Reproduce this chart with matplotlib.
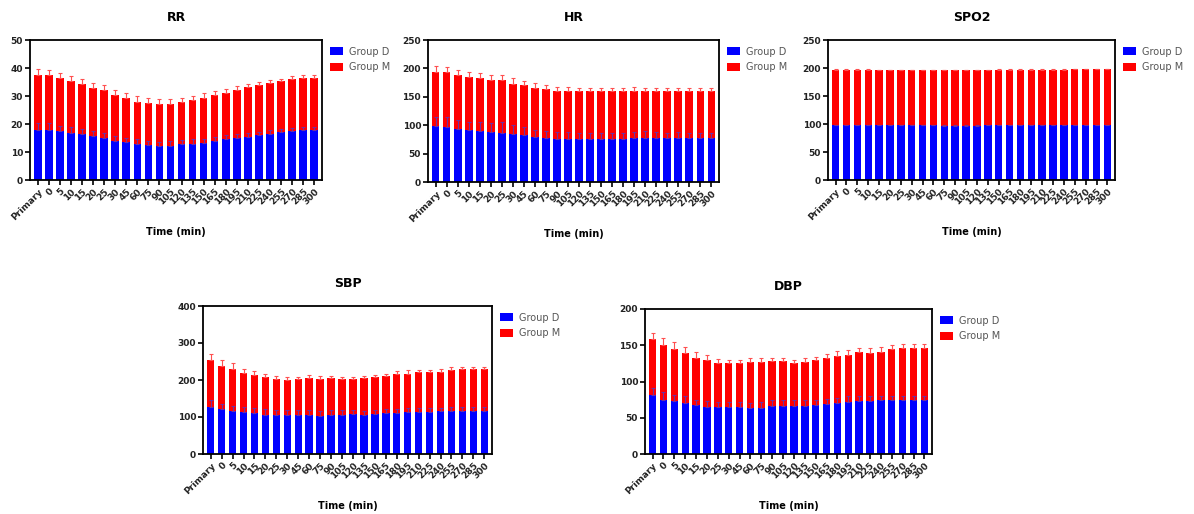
import numpy as np
from matplotlib import pyplot as plt

times = ["Primary", "0", "5", "10", "15", "20", "25", "30", "45", "60", "75", "90", "105",
         "120", "135", "150", "165", "180", "195", "210", "225", "240", "255", "270", "285", "300"]

# RR
rr_d = [18.0, 18.0, 17.4, 16.8, 16.3, 15.6, 15.0, 14.0, 13.5, 13.0, 12.5, 12.2, 12.3,
        12.7, 13.0, 13.2, 14.0, 14.5, 15.0, 15.5, 15.9, 16.5, 17.0, 17.4, 17.7, 17.7]
rr_m = [19.6, 19.6, 19.0, 18.6, 18.1, 17.4, 17.0, 16.5, 15.8, 15.0, 15.0, 15.0, 14.9,
        15.0, 15.5, 16.1, 16.3, 16.7, 17.2, 17.7, 18.1, 18.2, 18.2, 18.7, 18.7, 18.7]
rr_d_err = [2.5, 2.3, 2.0, 2.0, 1.8, 1.8, 1.8, 1.6, 1.6, 1.6, 1.5, 1.5, 1.5,
            1.5, 1.5, 1.5, 1.4, 1.4, 1.4, 1.4, 1.4, 1.2, 1.2, 1.2, 1.2, 1.2]
rr_m_err = [2.0, 1.8, 1.8, 1.8, 1.8, 1.8, 1.8, 1.8, 1.8, 2.0, 1.8, 1.6, 1.6,
            1.5, 1.5, 1.6, 1.5, 1.4, 1.2, 1.2, 1.0, 1.0, 1.0, 1.0, 1.0, 1.0]

# HR
hr_d = [98, 97, 94, 91, 90, 88, 87, 85, 82, 79, 77, 76, 76,
        75, 75, 76, 75, 75, 77, 78, 78, 77, 78, 78, 77, 77]
hr_m = [96, 96, 94, 94, 93, 91, 92, 88, 88, 86, 87, 85, 85,
        85, 85, 84, 85, 86, 84, 83, 83, 83, 83, 82, 83, 83]
hr_d_err = [17, 17, 16, 15, 15, 15, 18, 16, 14, 12, 13, 12, 12,
            12, 11, 11, 12, 12, 11, 12, 10, 10, 10, 9, 10, 10]
hr_m_err = [10, 9, 9, 8, 9, 10, 9, 10, 8, 9, 7, 7, 7,
            6, 6, 6, 5, 5, 6, 5, 5, 5, 5, 5, 5, 5]

# SPO2
spo2_d = [98, 98, 98, 98, 98, 98, 98, 98, 98, 98, 97, 97, 97,
          97, 98, 98, 98, 98, 98, 98, 98, 98, 98, 98, 98, 98]
spo2_m = [99, 99, 99, 99, 98, 98, 98, 98, 98, 98, 99, 99, 99,
          99, 98, 99, 99, 99, 99, 99, 99, 99, 100, 100, 100, 100]
spo2_d_err = [1] * 26
spo2_m_err = [1] * 26

# SBP
sbp_d = [127, 121, 117, 113, 110, 106, 106, 105, 105, 105, 104, 105, 106,
         107, 105, 107, 110, 110, 113, 113, 113, 115, 117, 117, 117, 117]
sbp_m = [126, 118, 114, 107, 103, 101, 97, 96, 98, 100, 100, 100, 97,
         96, 100, 100, 100, 105, 104, 109, 109, 107, 110, 112, 112, 112]
sbp_d_err = [20, 15, 14, 15, 14, 15, 14, 13, 13, 13, 12, 13, 13,
             12, 12, 12, 12, 12, 12, 10, 10, 10, 10, 10, 10, 10]
sbp_m_err = [16, 16, 14, 10, 10, 9, 7, 6, 6, 9, 7, 6, 6,
             6, 6, 6, 7, 9, 9, 6, 6, 7, 7, 6, 6, 6]

# DBP
dbp_d = [81, 75, 73, 70, 67, 65, 65, 65, 65, 64, 64, 66, 66,
         66, 66, 67, 69, 70, 72, 73, 73, 74, 74, 74, 74, 74]
dbp_m = [78, 76, 72, 69, 66, 64, 61, 60, 61, 63, 63, 62, 62,
         60, 61, 62, 64, 65, 64, 68, 67, 67, 71, 72, 72, 72]
dbp_d_err = [10, 11, 9, 10, 8, 8, 7, 7, 7, 7, 8, 8, 8,
             8, 8, 8, 7, 7, 8, 7, 7, 6, 6, 6, 6, 6]
dbp_m_err = [8, 9, 9, 8, 8, 7, 5, 4, 4, 6, 6, 5, 5,
             4, 5, 5, 5, 7, 7, 5, 6, 6, 6, 6, 6, 6]

W, H = 1194, 514


def px_axes(fig, left, right, top, bottom):
    return fig.add_axes([left / W, 1 - bottom / H, (right - left) / W, (bottom - top) / H])


def panel(ax, title, d, m, d_err, m_err, ymax, ystep):
    x = np.arange(len(times))
    d = np.array(d)
    ax.bar(x, d, width=0.68, color="#0000ff", label="Group D")
    ax.bar(x, m, width=0.68, bottom=d, color="#ff0000", label="Group M")
    ax.errorbar(x, d, yerr=[np.zeros(len(x)), d_err], fmt="none",
                ecolor="#7030a0", elinewidth=0.8, capsize=1.5, capthick=0.8)
    ax.errorbar(x, d + np.array(m), yerr=[np.zeros(len(x)), m_err], fmt="none",
                ecolor="#ff5050", elinewidth=0.8, capsize=1.5, capthick=0.8)
    ax.set_xlim(-0.7, len(times) - 0.3)
    ax.set_ylim(0, ymax)
    ax.set_yticks(np.arange(0, ymax + 1, ystep))
    ax.set_xticks(x)
    ax.set_xticklabels(times, rotation=45, ha="right", rotation_mode="anchor",
                       fontsize=6.5, fontweight="bold", color="#222222")
    for lab in ax.get_yticklabels():
        lab.set_fontsize(6.5)
        lab.set_fontweight("bold")
        lab.set_color("#222222")
    ax.tick_params(axis="both", length=3.5, width=1.2, pad=1.5)
    for s in ax.spines.values():
        s.set_linewidth(1.3)
    ax.set_title(title, fontsize=9, fontweight="bold", pad=14)
    ax.set_xlabel("Time (min)", fontsize=7, fontweight="bold", labelpad=4)
    leg = ax.legend(loc="upper left", bbox_to_anchor=(1.005, 1.0), frameon=False,
                    fontsize=7, handlelength=1.3, handleheight=0.9, handletextpad=0.6,
                    labelspacing=0.55, borderaxespad=0.3)
    for t in leg.get_texts():
        t.set_color("#555555")


fig = plt.figure(figsize=(W / 100, H / 100), dpi=100)

panel(px_axes(fig, 30, 322, 40, 180), "RR", rr_d, rr_m, rr_d_err, rr_m_err, 50, 10)
panel(px_axes(fig, 428, 719, 40, 182), "HR", hr_d, hr_m, hr_d_err, hr_m_err, 250, 50)
panel(px_axes(fig, 828, 1115, 40, 180), "SPO2", spo2_d, spo2_m, spo2_d_err, spo2_m_err, 250, 50)
panel(px_axes(fig, 203, 492, 306, 454), "SBP", sbp_d, sbp_m, sbp_d_err, sbp_m_err, 400, 100)
panel(px_axes(fig, 645, 932, 309, 454), "DBP", dbp_d, dbp_m, dbp_d_err, dbp_m_err, 200, 50)

fig.savefig("out.png", dpi=100)
